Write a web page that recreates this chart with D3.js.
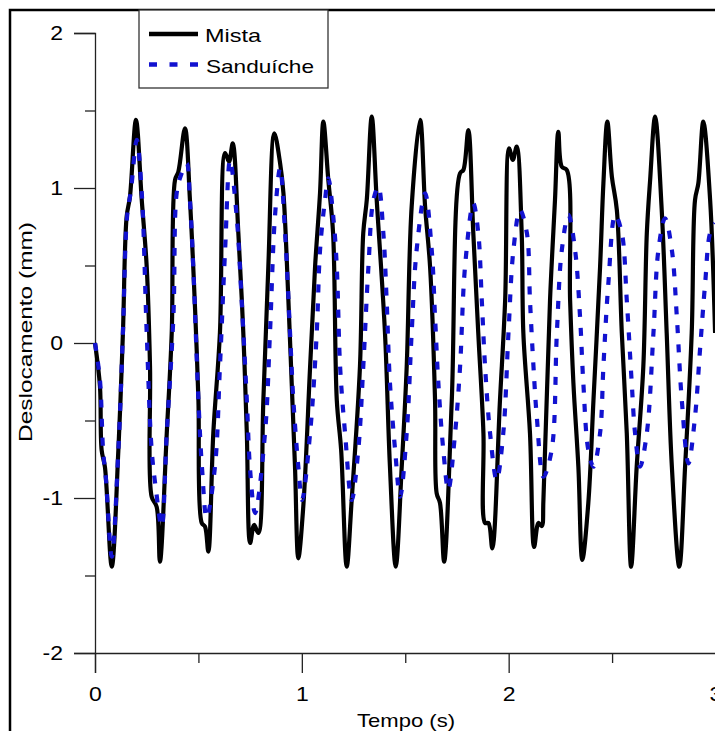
<!DOCTYPE html>
<html><head><meta charset="utf-8">
<script src="https://cdn.jsdelivr.net/npm/d3@7"></script>
<style>html,body{margin:0;padding:0;background:#fff;overflow:hidden}</style>
</head><body><svg id="c" width="715" height="731"></svg>
<script>
// ---- data ----
const seriesNames = ["Mista", "Sanduíche"];
const xTitle = "Tempo (s)";
const yTitle = "Deslocamento (mm)";
const xTicks = [0, 1, 2, 3];
const xMinorTicks = [0.5, 1.5, 2.5];
const yTicks = [-2, -1, 0, 1, 2];
const yMinorTicks = [-1.5, -0.5, 0.5, 1.5];

const mistaT = [0,0.024,0.032,0.048,0.081,0.113,0.135,0.153,0.169,0.198,0.226,0.250,0.266,0.274,0.298,0.314,0.347,0.371,0.387,0.403,0.435,0.459,0.484,0.500,0.516,0.532,0.548,0.572,0.604,0.629,0.648,0.666,0.693,0.717,0.734,0.750,0.769,0.790,0.814,0.838,0.867,0.895,0.911,0.935,0.951,0.967,0.983,1.007,1.040,1.064,1.088,1.104,1.128,1.151,1.169,1.190,1.217,1.241,1.281,1.297,1.314,1.338,1.362,1.402,1.426,1.454,1.483,1.507,1.531,1.572,1.596,1.620,1.644,1.652,1.668,1.688,1.725,1.765,1.781,1.805,1.829,1.853,1.878,1.886,1.902,1.921,1.958,1.983,2.002,2.020,2.039,2.063,2.071,2.103,2.123,2.144,2.160,2.168,2.200,2.224,2.240,2.257,2.281,2.297,2.313,2.337,2.356,2.385,2.410,2.442,2.458,2.477,2.499,2.523,2.547,2.571,2.592,2.619,2.651,2.668,2.684,2.708,2.740,2.764,2.789,2.825,2.853,2.885,2.901,2.917,2.941,2.974,2.998];
const mistaV = [0,-0.28,-0.69,-0.80,-1.443,-0.69,0.065,0.815,0.944,1.439,0.923,0.492,-0.153,-0.992,-1.056,-1.411,-0.581,0.065,1.052,1.105,1.385,0.923,0.213,-0.368,-1.161,-1.185,-1.346,-0.581,0.065,1.226,1.170,1.288,0.710,0.065,-0.581,-1.29,-1.174,-1.226,-0.368,0.492,1.353,1.159,0.968,0.277,-0.258,-0.80,-1.389,-1.056,-0.153,0.492,0.968,1.428,1.052,0.710,-0.368,-0.69,-1.443,-1.013,-0.153,0.710,0.923,1.460,0.923,0.065,-0.798,-1.443,-0.798,-0.153,0.879,1.439,0.879,0.492,-0.368,-0.970,-1.032,-1.411,-0.368,1.095,1.116,1.374,0.710,0.065,-0.581,-1.161,-1.161,-1.325,-0.368,0.277,1.256,1.181,1.267,0.710,0.065,-0.581,-1.316,-1.161,-1.181,-1.013,0.277,0.923,1.363,1.137,1.116,0.277,-0.258,-0.798,-1.40,-1.034,-0.368,0.492,1.030,1.428,1.073,0.858,0.065,-0.581,-1.443,-0.798,-0.153,0.710,1.052,1.460,0.858,0.065,-0.798,-1.443,-0.798,0.065,0.923,1.030,1.428,0.923,0.065];

const sandT = [0,0.024,0.039,0.053,0.081,0.113,0.135,0.155,0.174,0.202,0.226,0.250,0.274,0.295,0.322,0.347,0.379,0.395,0.416,0.443,0.459,0.475,0.500,0.518,0.540,0.580,0.604,0.629,0.653,0.685,0.709,0.734,0.750,0.774,0.822,0.846,0.870,0.895,0.919,0.943,0.959,0.983,1.001,1.040,1.072,1.088,1.112,1.128,1.152,1.169,1.185,1.209,1.241,1.273,1.297,1.322,1.346,1.370,1.394,1.410,1.426,1.451,1.475,1.507,1.531,1.555,1.596,1.628,1.644,1.660,1.684,1.708,1.741,1.765,1.789,1.829,1.853,1.870,1.886,1.910,1.942,1.974,1.999,2.023,2.055,2.088,2.103,2.120,2.136,2.168,2.208,2.233,2.257,2.289,2.321,2.345,2.361,2.385,2.410,2.442,2.458,2.482,2.515,2.547,2.571,2.595,2.611,2.635,2.668,2.700,2.724,2.756,2.789,2.813,2.837,2.869,2.901,2.925,2.950,2.974,2.998];
const sandV = [0,-0.24,-0.69,-0.88,-1.379,-0.69,0.065,0.815,0.987,1.31,0.968,0.065,-0.69,-0.948,-1.185,-0.581,0.170,0.968,1.084,1.159,0.923,0.492,-0.368,-0.819,-1.129,-0.798,-0.153,0.60,1.181,0.815,0.277,-0.368,-0.819,-1.097,-0.581,0.065,0.815,1.129,0.710,0.065,-0.368,-0.798,-1.013,-0.581,0.065,0.60,0.923,1.063,0.815,0.492,-0.153,-0.581,-1.013,-0.69,-0.153,0.492,0.923,1.008,0.710,0.277,-0.258,-0.69,-0.992,-0.581,0.065,0.60,0.966,0.60,0.170,-0.258,-0.69,-0.948,-0.581,-0.153,0.492,0.901,0.710,0.277,-0.153,-0.581,-0.884,-0.581,0.065,0.60,0.858,0.710,0.277,-0.153,-0.476,-0.863,-0.69,0.065,0.60,0.826,0.60,0.170,-0.258,-0.69,-0.798,-0.581,-0.153,0.385,0.826,0.710,0.277,-0.258,-0.581,-0.798,-0.581,0.065,0.60,0.805,0.60,0.170,-0.368,-0.776,-0.476,-0.045,0.385,0.710,0.772];

// ---- drawing ----
const svg = d3.select("#c");
const FONT = "'Liberation Sans', Arial, sans-serif";
const x = d3.scaleLinear().domain([0, 3]).range([95, 715.5]);
const y = d3.scaleLinear().domain([-2, 2]).range([653, 33]);
const fmt = d => String(d);

function stretch(sel, f) {
  sel.each(function () {
    const L = this.getComputedTextLength();
    d3.select(this).attr("textLength", L * f).attr("lengthAdjust", "spacingAndGlyphs");
  });
}

// outer frame
svg.append("rect").attr("x", 10).attr("y", 10).attr("width", 900).attr("height", 900)
  .attr("fill", "none").attr("stroke", "#000").attr("stroke-width", 2.5);

// axes
const axStroke = "#222";
svg.append("g").attr("transform", "translate(95,0)")
  .call(d3.axisLeft(y).tickValues(yTicks).tickSize(21).tickPadding(11).tickFormat(fmt));
const gyMinor = svg.append("g").attr("transform", "translate(95,0)")
  .call(d3.axisLeft(y).tickValues(yMinorTicks).tickSize(10).tickFormat(""));
gyMinor.select(".domain").remove();
svg.append("g").attr("transform", "translate(0,653)")
  .call(d3.axisBottom(x).tickValues(xTicks).tickSize(20).tickPadding(14).tickFormat(fmt));
const gxMinor = svg.append("g").attr("transform", "translate(0,653)")
  .call(d3.axisBottom(x).tickValues(xMinorTicks).tickSize(10).tickFormat(""));
gxMinor.select(".domain").remove();
svg.selectAll(".domain, .tick line").attr("stroke", axStroke).attr("stroke-width", 1.3);
svg.selectAll(".tick text").attr("font-family", FONT).attr("font-size", 20).attr("fill", "#000");
stretch(svg.selectAll(".tick text"), 1.15);

// series
function lineFor(T, V) {
  return d3.line().x(i => x(T[i])).y(i => y(V[i])).curve(d3.curveCatmullRom.alpha(0.5))(d3.range(T.length));
}
svg.append("path").attr("d", lineFor(mistaT, mistaV))
  .attr("fill", "none").attr("stroke", "#000").attr("stroke-width", 4.2).attr("stroke-linejoin", "round");
svg.append("path").attr("d", lineFor(sandT, sandV))
  .attr("fill", "none").attr("stroke", "#1212d0").attr("stroke-width", 4.2).attr("stroke-dasharray", "8,11");

// titles
svg.append("text").attr("x", 406).attr("y", 727).attr("text-anchor", "middle")
  .attr("font-family", FONT).attr("font-size", 19).text(xTitle)
  .attr("textLength", 98).attr("lengthAdjust", "spacingAndGlyphs");
svg.append("text").attr("transform", "translate(32,332) rotate(-90)").attr("text-anchor", "middle")
  .attr("font-family", FONT).attr("font-size", 19).text(yTitle)
  .attr("textLength", 220).attr("lengthAdjust", "spacingAndGlyphs");

// legend
const lg = svg.append("g");
lg.append("rect").attr("x", 139).attr("y", 10).attr("width", 189).attr("height", 78)
  .attr("fill", "#fff").attr("stroke", "#333").attr("stroke-width", 1.3);
lg.append("line").attr("x1", 149).attr("x2", 198).attr("y1", 34).attr("y2", 34)
  .attr("stroke", "#000").attr("stroke-width", 4.3);
lg.append("line").attr("x1", 149).attr("x2", 199).attr("y1", 64.5).attr("y2", 64.5)
  .attr("stroke", "#1212d0").attr("stroke-width", 4.3).attr("stroke-dasharray", "8,12.5");
lg.append("text").attr("x", 205).attr("y", 41.5).attr("font-family", FONT).attr("font-size", 19)
  .text(seriesNames[0]).attr("textLength", 56).attr("lengthAdjust", "spacingAndGlyphs");
lg.append("text").attr("x", 206).attr("y", 72.5).attr("font-family", FONT).attr("font-size", 19)
  .text(seriesNames[1]).attr("textLength", 108).attr("lengthAdjust", "spacingAndGlyphs");
</script></body></html>
